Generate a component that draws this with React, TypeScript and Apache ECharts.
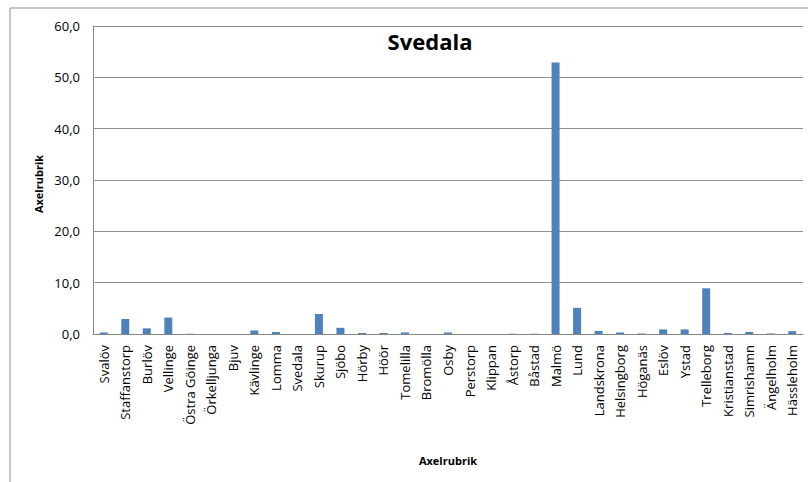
import React, { useEffect, useRef } from "react";
import * as echarts from "echarts";

const categories = [
  "Svalöv", "Staffanstorp", "Burlöv", "Vellinge", "Östra Göinge", "Örkelljunga", "Bjuv",
  "Kävlinge", "Lomma", "Svedala", "Skurup", "Sjöbo", "Hörby", "Höör", "Tomelilla",
  "Bromölla", "Osby", "Perstorp", "Klippan", "Åstorp", "Båstad", "Malmö", "Lund",
  "Landskrona", "Helsingborg", "Höganäs", "Eslöv", "Ystad", "Trelleborg", "Kristianstad",
  "Simrishamn", "Ängelholm", "Hässleholm",
];
const values = [
  0.3, 2.9, 1.1, 3.2, 0.05, 0, 0,
  0.7, 0.4, 0, 3.9, 1.2, 0.2, 0.2, 0.3,
  0, 0.3, 0, 0, 0.05, 0.05, 52.9, 5.1,
  0.6, 0.3, 0.1, 0.9, 0.9, 8.9, 0.2,
  0.4, 0.1, 0.55,
];
const titleText = "Svedala";
const yAxisName = "Axelrubrik";
const xAxisName = "Axelrubrik";

const FONT = "'Open Sans', sans-serif";

export default function App() {
  const ref = useRef<HTMLDivElement>(null);
  useEffect(() => {
    if (!ref.current) return;
    const chart = echarts.init(ref.current, null, { renderer: "svg" });
    chart.setOption({
      animation: false,
      backgroundColor: "#ffffff",
      textStyle: { fontFamily: FONT },
      title: {
        text: titleText,
        left: 425,
        top: 25,
        textAlign: "center",
        textStyle: { fontFamily: FONT, fontSize: 22, fontWeight: "bold", color: "#000" },
      },
      graphic: [
        {
          type: "rect",
          shape: { x: 10, y: 8, width: 900, height: 600 },
          style: { fill: "none", stroke: "#8c8c8c", lineWidth: 1 },
          silent: true,
          z: -1,
        },
        {
          type: "text",
          x: 38,
          y: 184,
          rotation: Math.PI / 2,
          style: {
            text: yAxisName,
            font: `bold 11px ${FONT}`,
            fill: "#000",
            align: "center",
            verticalAlign: "middle",
          },
        },
        {
          type: "text",
          x: 448,
          y: 460,
          style: {
            text: xAxisName,
            font: `bold 11px ${FONT}`,
            fill: "#000",
            align: "center",
            verticalAlign: "middle",
          },
        },
      ],
      grid: { left: 93, right: 5, top: 26, bottom: 148, containLabel: false },
      xAxis: {
        type: "category",
        data: categories,
        axisLine: { show: true, lineStyle: { color: "#868686", width: 1 } },
        axisTick: { show: false },
        axisLabel: {
          interval: 0,
          rotate: 90,
          margin: 11,
          fontSize: 13,
          fontFamily: FONT,
          color: "#000",
        },
      },
      yAxis: {
        type: "value",
        min: 0,
        max: 60,
        interval: 10,
        axisLine: { show: true, lineStyle: { color: "#868686", width: 1 } },
        axisTick: { show: false },
        splitLine: { show: true, lineStyle: { color: "#909090", width: 1 } },
        axisLabel: {
          margin: 13,
          fontSize: 13,
          fontFamily: FONT,
          color: "#000",
          formatter: (v: number) => v.toFixed(1).replace(".", ","),
        },
      },
      series: [
        {
          type: "bar",
          data: values,
          barWidth: 8,
          itemStyle: { color: "#4F81BD" },
        },
      ],
    });
    return () => chart.dispose();
  }, []);
  return (
    <div
      ref={ref}
      style={{ position: "fixed", left: 0, top: 0, width: 808, height: 482 }}
    />
  );
}
